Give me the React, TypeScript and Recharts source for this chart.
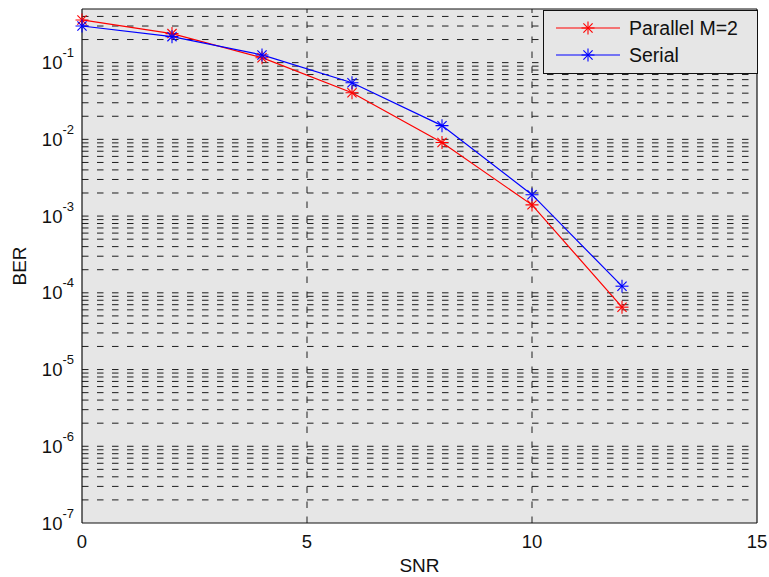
import { LineChart, Line, XAxis, YAxis, CartesianGrid, ReferenceLine, Legend } from 'recharts'

const snr = [0, 2, 4, 6, 8, 10, 12]
const berParallel = [0.36, 0.239, 0.116, 0.0405, 0.0091, 0.0014, 6.5e-5]
const berSerial = [0.3, 0.218, 0.126, 0.0547, 0.0151, 0.0019, 1.22e-4]

const xTicks = [0, 5, 10, 15]
const yTicks = [1e-7, 1e-6, 1e-5, 1e-4, 1e-3, 1e-2, 1e-1]
const xGrid = [5, 10]
const mantissas = [1, 2, 3, 4, 5, 6, 7, 8, 9]

const Y_MIN = 1e-7
const Y_MAX = 0.5
const X_MAX = 15

// every minor log gridline between the decades, like matlab's grid minor
const yGrid = yTicks
  .flatMap((d) => mantissas.map((m) => Number((m * d).toPrecision(3))))
  .filter((v) => v > Y_MIN && v < Y_MAX)

const data = snr.map((s, i) => ({ snr: s, parallel: berParallel[i], serial: berSerial[i] }))

const FONT = '"Liberation Sans", Arial, Helvetica, sans-serif'
const BG = '#e6e6e6'
const GRID = '#1e1e1e'

function Star({ cx, cy, color }: { cx?: number; cy?: number; color: string }) {
  if (cx == null || cy == null) return null
  const r = 6.5
  const d = 4.6
  return (
    <g stroke={color} strokeWidth={1.1}>
      <line x1={cx - r} y1={cy} x2={cx + r} y2={cy} />
      <line x1={cx} y1={cy - r} x2={cx} y2={cy + r} />
      <line x1={cx - d} y1={cy - d} x2={cx + d} y2={cy + d} />
      <line x1={cx - d} y1={cy + d} x2={cx + d} y2={cy - d} />
    </g>
  )
}

function YTick({ x, y, payload }: any) {
  const exp = Math.round(Math.log10(payload.value))
  return (
    <text x={x - 8} y={y + 6.5} textAnchor="end" fontFamily={FONT} fontSize={18.5} fill="#111">
      10
      <tspan dy={-12} fontSize={13}>
        {exp}
      </tspan>
    </text>
  )
}

function XTick({ x, y, payload }: any) {
  return (
    <text x={x} y={y + 25} textAnchor="middle" fontFamily={FONT} fontSize={18.5} fill="#111">
      {payload.value}
    </text>
  )
}

function LegendBox({ payload }: any) {
  const items = payload ?? []
  return (
    <svg width={215} height={64} style={{ display: 'block' }}>
      <rect x={0.5} y={0.5} width={214} height={63} fill={BG} stroke="#111" strokeWidth={1} />
      {items.map((p: any, i: number) => {
        const cy = 18 + i * 27
        return (
          <g key={p.value}>
            <line x1={13} y1={cy} x2={77} y2={cy} stroke={p.color} strokeWidth={1.2} />
            <Star cx={45} cy={cy} color={p.color} />
            <text x={86} y={cy + 7} fontFamily={FONT} fontSize={19.5} fill="#111">
              {p.value}
            </text>
          </g>
        )
      })}
    </svg>
  )
}

export default function App() {
  return (
    <div style={{ position: 'absolute', left: 0, top: 0, background: '#fff' }}>
      <LineChart width={769} height={577} data={data} margin={{ top: 9, right: 12, left: 0, bottom: 0 }}>
        <CartesianGrid fill={BG} horizontal={false} vertical={false} />
        <XAxis
          dataKey="snr"
          type="number"
          domain={[0, X_MAX]}
          ticks={xTicks}
          height={54}
          tickSize={0}
          tickMargin={0}
          tickLine={false}
          axisLine={{ stroke: '#111', strokeWidth: 1.2 }}
          tick={<XTick />}
          label={{
            content: ({ viewBox }: any) => (
              <text
                x={viewBox.x + viewBox.width / 2}
                y={viewBox.y + 49}
                textAnchor="middle"
                fontFamily={FONT}
                fontSize={19}
                fill="#111"
              >
                SNR
              </text>
            ),
          }}
        />
        <YAxis
          type="number"
          scale="log"
          domain={[Y_MIN, Y_MAX]}
          allowDataOverflow
          ticks={yTicks}
          width={82}
          tickSize={0}
          tickMargin={0}
          tickLine={false}
          axisLine={{ stroke: '#111', strokeWidth: 1.2 }}
          tick={<YTick />}
          label={{
            content: ({ viewBox }: any) => {
              const cx = viewBox.x + 26
              const cy = viewBox.y + viewBox.height / 2
              return (
                <text
                  x={cx}
                  y={cy}
                  textAnchor="middle"
                  transform={`rotate(-90, ${cx}, ${cy})`}
                  fontFamily={FONT}
                  fontSize={19}
                  fill="#111"
                >
                  BER
                </text>
              )
            },
          }}
        />
        {yGrid.map((v) => (
          <ReferenceLine key={`h${v}`} y={v} stroke={GRID} strokeWidth={1} strokeDasharray="6.5 8.5" zIndex={-50} />
        ))}
        {xGrid.map((v) => (
          <ReferenceLine key={`v${v}`} x={v} stroke={GRID} strokeWidth={1} strokeDasharray="6.5 8.5" zIndex={-50} />
        ))}
        <ReferenceLine y={Y_MAX} stroke="#111" strokeWidth={1.2} />
        <ReferenceLine x={X_MAX} stroke="#111" strokeWidth={1.2} />
        <Legend
          layout="horizontal"
          verticalAlign="middle"
          align="center"
          wrapperStyle={{ left: 543, top: 10, width: 215, height: 64 }}
          content={<LegendBox />}
        />
        <Line
          type="linear"
          dataKey="parallel"
          name="Parallel M=2"
          stroke="#ff0000"
          strokeWidth={1.2}
          dot={(p: any) => <Star key={`p${p.index}`} cx={p.cx} cy={p.cy} color="#ff0000" />}
          activeDot={false}
          isAnimationActive={false}
        />
        <Line
          type="linear"
          dataKey="serial"
          name="Serial"
          stroke="#0000ff"
          strokeWidth={1.2}
          dot={(p: any) => <Star key={`s${p.index}`} cx={p.cx} cy={p.cy} color="#0000ff" />}
          activeDot={false}
          isAnimationActive={false}
        />
      </LineChart>
    </div>
  )
}
